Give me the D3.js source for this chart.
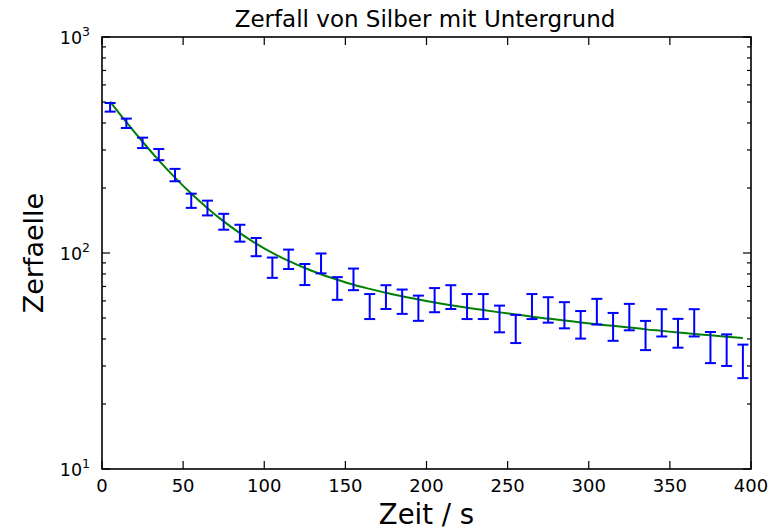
<!DOCTYPE html>
<html><head><meta charset="utf-8">
<script src="https://cdn.jsdelivr.net/npm/d3@7"></script>
<style>body{margin:0;background:#fff;} text{font-family:"DejaVu Sans",sans-serif;}</style>
</head><body>
<svg id="c" width="773" height="531"></svg>
<script>
// Measurement times (s)
const times = [5,15,25,35,45,55,65,75,85,95,105,115,125,135,145,155,165,175,185,195,205,215,225,235,245,255,265,275,285,295,305,315,325,335,345,355,365,375,385,395];
// Counts (error = sqrt(N))
const counts = [473,399,324,286,230,175,162,140,124,107,86,94,80,90,69,76,57,63,60,56,61,63,57,57,50,45,57,55,52,47,54,46,51,42,48,43,48,37,36,32];
// Fit curve values sampled at the same times
const fitValues = [502.6,403.4,327.3,268.6,223.4,188.4,161.3,140.1,123.6,110.5,100.1,91.9,85.2,79.7,75.2,71.3,68.2,65.4,63.0,60.9,59.0,57.3,55.8,54.4,53.1,51.9,50.7,49.7,48.7,47.7,46.8,46.0,45.2,44.3,43.6,42.9,42.2,41.6,41.0,40.4];
const xTicks = [0,50,100,150,200,250,300,350,400];
const yMajor = [10,100,1000];
const yExp = ["1","2","3"];
const title = "Zerfall von Silber mit Untergrund";
const xLabel = "Zeit / s";
const yLabel = "Zerfaelle";

const svg = d3.select("#c");
const L = 102, T = 37, R = 751, B = 469;
const x = d3.scaleLinear().domain([0,400]).range([L,R]);
const y = d3.scaleLog().domain([10,1000]).range([B,T]);

const yMinor = [];
for (const d of [10,100]) for (let k=2;k<=9;k++) yMinor.push(d*k);

// Fit line
svg.append("clipPath").attr("id","pc").append("rect")
  .attr("x",L).attr("y",T).attr("width",R-L).attr("height",B-T);
const line = d3.line().x((d,i)=>x(times[i])).y(d=>y(d)).curve(d3.curveMonotoneX);
svg.append("path").datum(fitValues).attr("d",line)
  .attr("fill","none").attr("stroke","#008000").attr("stroke-width",2)
  .attr("clip-path","url(#pc)");

// Error bars
const eb = svg.append("g").attr("stroke","#0000ff").attr("stroke-width",2);
const cap = 5.5;
counts.forEach((n,i)=>{
  const e = Math.sqrt(n);
  const cx = x(times[i]);
  const y1 = y(n+e), y2 = y(n-e);
  eb.append("line").attr("x1",cx).attr("x2",cx).attr("y1",y1).attr("y2",y2);
  eb.append("line").attr("x1",cx-cap).attr("x2",cx+cap).attr("y1",y1).attr("y2",y1);
  eb.append("line").attr("x1",cx-cap).attr("x2",cx+cap).attr("y1",y2).attr("y2",y2);
});

// Ticks
const tk = svg.append("g").attr("stroke","#000").attr("stroke-width",1.2);
xTicks.forEach(v=>{
  const px = x(v);
  tk.append("line").attr("x1",px).attr("x2",px).attr("y1",B).attr("y2",B-8);
  tk.append("line").attr("x1",px).attr("x2",px).attr("y1",T).attr("y2",T+8);
});
yMajor.forEach(v=>{
  const py = y(v);
  tk.append("line").attr("x1",L).attr("x2",L+8).attr("y1",py).attr("y2",py);
  tk.append("line").attr("x1",R).attr("x2",R-8).attr("y1",py).attr("y2",py);
});
yMinor.forEach(v=>{
  const py = y(v);
  tk.append("line").attr("x1",L).attr("x2",L+4).attr("y1",py).attr("y2",py);
  tk.append("line").attr("x1",R).attr("x2",R-4).attr("y1",py).attr("y2",py);
});

// Frame
svg.append("rect").attr("x",L).attr("y",T).attr("width",R-L).attr("height",B-T)
  .attr("fill","none").attr("stroke","#000").attr("stroke-width",1.6);

// X tick labels
svg.append("g").selectAll("text").data(xTicks).join("text")
  .attr("x",d=>x(d)).attr("y",B+23).attr("text-anchor","middle")
  .attr("font-size",18).text(d=>d);

// Y tick labels
yMajor.forEach((v,i)=>{
  const t = svg.append("text").attr("x",90).attr("y",y(v)+6.5)
    .attr("text-anchor","end").attr("font-size",17.5);
  t.append("tspan").text("10");
  t.append("tspan").attr("dy",-8).attr("font-size",12.5).text(yExp[i]);
});

// Title & labels
svg.append("text").attr("x",425).attr("y",27).attr("text-anchor","middle")
  .attr("font-size",23).text(title);
svg.append("text").attr("x",(L+R)/2).attr("y",524).attr("text-anchor","middle")
  .attr("font-size",27.5).text(xLabel);
svg.append("text").attr("transform","translate(43,"+((T+B)/2)+") rotate(-90)")
  .attr("text-anchor","middle").attr("font-size",27).text(yLabel);
</script>
</body></html>
